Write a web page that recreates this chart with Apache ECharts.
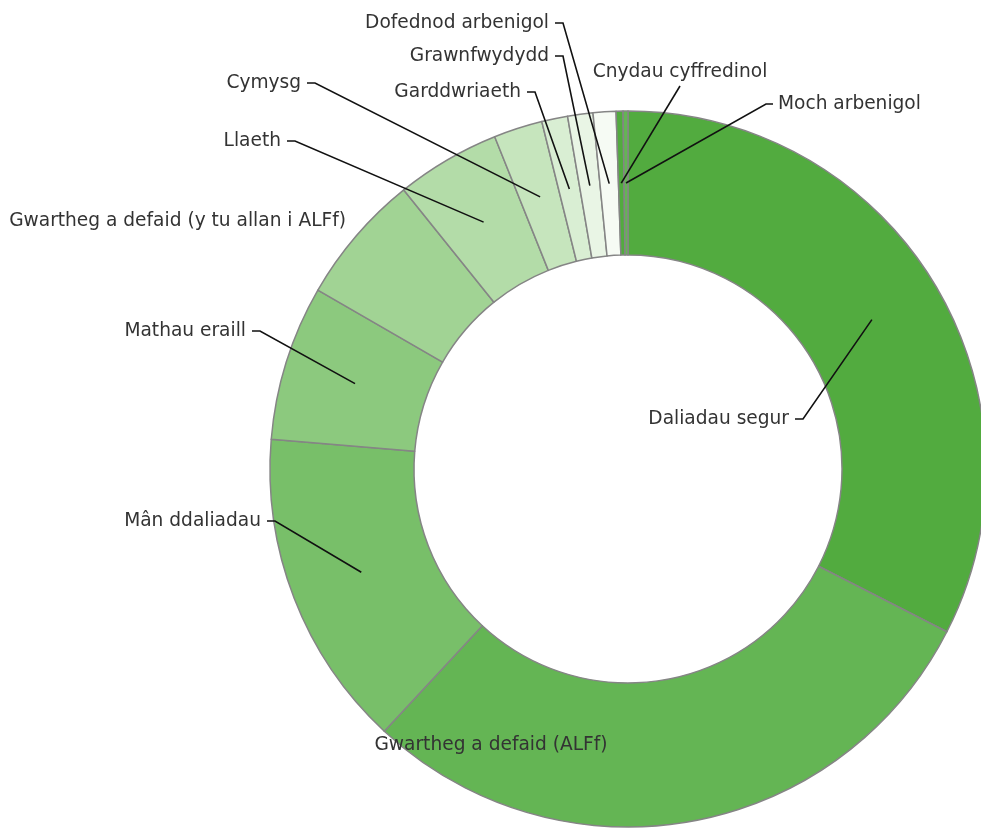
<!DOCTYPE html>
<html>
<head>
<meta charset="utf-8">
<script src="https://cdn.jsdelivr.net/npm/echarts@6/dist/echarts.min.js"></script>
<style>
html,body{margin:0;padding:0;background:#fff;}
#chart{width:981px;height:830px;}
</style>
</head>
<body>
<div id="chart"></div>
<script>
// ---- data (% share) ----
const categories = [
  'Daliadau segur',
  'Gwartheg a defaid (ALFf)',
  'Mân ddaliadau',
  'Mathau eraill',
  'Gwartheg a defaid (y tu allan i ALFf)',
  'Llaeth',
  'Cymysg',
  'Garddwriaeth',
  'Grawnfwydydd',
  'Dofednod arbenigol',
  'Cnydau cyffredinol',
  'Moch arbenigol'
];
const values = [32.5, 29.4, 14.4, 7.0, 5.9, 4.7, 2.2, 1.17, 1.14, 1.03, 0.31, 0.22];
const colors = ['#52ab3f', '#64b554', '#78bf69', '#8cc97e', '#a1d394', '#b3dca8',
                '#c6e5bd', '#d9eed3', '#e9f5e5', '#f6fbf4', '#52ab3f', '#64b554'];

// ---- layout (label anchors, pixels) ----
const CX = 628, CY = 469, R0 = 214, R1 = 358, RMID = (R0 + R1) / 2;
const labelSpots = [
  {x: 789, y: 419, align: 'right'},
  {x: 491, y: 745, align: 'center', noLine: true},
  {x: 261, y: 521, align: 'right'},
  {x: 246, y: 331, align: 'right'},
  {x: 346, y: 221, align: 'right', noLine: true},
  {x: 281, y: 141, align: 'right'},
  {x: 301, y: 83, align: 'right'},
  {x: 521, y: 92, align: 'right'},
  {x: 549, y: 56, align: 'right'},
  {x: 549, y: 23, align: 'right'},
  {x: 680, y: 72, align: 'center', below: true},
  {x: 778, y: 104, align: 'left'}
];

const total = values.reduce((a, b) => a + b, 0);
function midPoint(i) {
  let acc = 0;
  for (let k = 0; k < i; k++) acc += values[k];
  const a = (acc + values[i] / 2) / total * 2 * Math.PI;
  return [CX + RMID * Math.sin(a), CY - RMID * Math.cos(a)];
}

const chart = echarts.init(document.getElementById('chart'));
chart.setOption({
  animation: false,
  series: [{
    type: 'pie',
    z: 2,
    center: [CX, CY],
    radius: [R0, R1],
    startAngle: 90,
    clockwise: true,
    avoidLabelOverlap: false,
    itemStyle: {borderColor: '#858585', borderWidth: 1.5},
    label: {show: false},
    labelLine: {show: false},
    emphasis: {disabled: true},
    data: categories.map((name, i) => ({
      name: name,
      value: values[i],
      itemStyle: {color: colors[i]}
    }))
  }, {
    // transparent overlay carrying the labels so the leader lines sit above the ring
    type: 'pie',
    z: 5,
    silent: true,
    center: [CX, CY],
    radius: [R0, R1],
    startAngle: 90,
    clockwise: true,
    avoidLabelOverlap: false,
    itemStyle: {color: 'rgba(0,0,0,0)', borderWidth: 0},
    label: {
      show: true,
      position: 'outside',
      color: '#333',
      fontFamily: 'DejaVu Sans',
      fontSize: 18.6
    },
    labelLine: {show: true, lineStyle: {color: '#111', width: 1.6}},
    emphasis: {disabled: true},
    labelLayout: function (p) {
      const s = labelSpots[p.dataIndex];
      let start;
      if (p.labelLinePoints && p.labelLinePoints[0]) {
        const p0 = p.labelLinePoints[0];
        const dx = p0[0] - CX, dy = p0[1] - CY;
        const d = Math.hypot(dx, dy) || 1;
        start = [CX + dx / d * RMID, CY + dy / d * RMID];
      } else {
        start = midPoint(p.dataIndex);
      }
      let pts;
      if (s.align === 'right') pts = [start, [s.x + 14, s.y], [s.x + 6, s.y]];
      else if (s.align === 'left') pts = [start, [s.x - 12, s.y], [s.x - 5, s.y]];
      else pts = [start, [s.x, s.y + 14], [s.x, s.y + 14]];
      return {x: s.x, y: s.y, align: s.align, verticalAlign: 'middle', labelLinePoints: pts};
    },
    data: categories.map((name, i) => ({
      name: name,
      value: values[i],
      labelLine: labelSpots[i].noLine ? {show: false} : undefined
    }))
  }]
});
</script>
</body>
</html>
